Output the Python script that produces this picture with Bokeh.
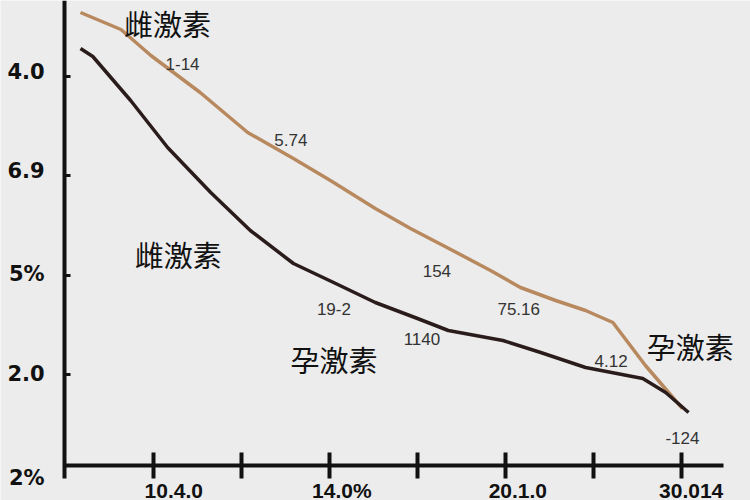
import re
from bokeh.plotting import figure
from bokeh.models import LinearAxis, FixedTicker, Range1d, ColumnDataSource
from bokeh.core.properties import value
from bokeh.embed import file_html
from bokeh.resources import INLINE

# ---------------- data ----------------
# x positions in tick units (tick 1 .. 7), y in chart units
estrogen_x = [0.17, 0.63, 0.97, 1.53, 2.07, 2.59, 3.01, 3.52, 3.92, 4.40, 4.83, 5.17, 5.57, 5.91, 6.22, 6.59, 7.01]
estrogen_y = [4.53, 4.36, 4.10, 3.73, 3.33, 3.07, 2.85, 2.57, 2.37, 2.15, 1.95, 1.78, 1.65, 1.55, 1.43, 1.00, 0.57]

progesterone_x = [0.17, 0.31, 0.74, 1.16, 1.65, 2.10, 2.59, 3.07, 3.52, 4.00, 4.35, 4.97, 5.40, 5.91, 6.56, 6.82, 7.08]
progesterone_y = [4.17, 4.09, 3.65, 3.18, 2.73, 2.35, 2.02, 1.82, 1.63, 1.47, 1.35, 1.25, 1.13, 0.98, 0.87, 0.73, 0.53]

series_names = ["雌激素", "雌激素", "孕激素", "孕激素"]
series_name_x = [1.16, 1.28, 3.05, 7.10]
series_name_y = [4.43, 2.12, 1.07, 1.20]

point_labels = ["1-14", "5.74", "154", "75.16", "19-2", "1140", "4.12", "-124"]
point_label_x = [1.33, 2.56, 4.22, 5.15, 3.05, 4.05, 6.20, 7.01]
point_label_y = [4.02, 3.26, 1.95, 1.57, 1.57, 1.27, 1.05, 0.28]

x_ticks = [1, 2, 3, 4, 5, 6, 7]
x_tick_labels = ["10.4.0", "14.0%", "20.1.0", "30.014"]
x_tick_label_pos = [1.23, 3.14, 5.14, 7.11]

y_ticks = [3.89, 2.90, 1.90, 0.91]
y_tick_labels = ["4.0", "6.9", "5%", "2.0", "2%"]
y_tick_label_pos = [3.94, 2.95, 1.92, 0.92, -0.12]

# ---------------- figure ----------------
BG = "#ececec"
p = figure(width=750, height=500, output_backend="svg", toolbar_location=None,
           x_axis_location=None, y_axis_location=None,
           x_range=Range1d(-0.739, 7.784), y_range=Range1d(-0.35, 4.65),
           min_border_left=0, min_border_right=0, min_border_top=0, min_border_bottom=0)
p.background_fill_color = BG
p.border_fill_color = BG
p.outline_line_color = None
p.xgrid.visible = False
p.ygrid.visible = False

AX_X = -0.01   # x location of the vertical axis
AX_Y = 0.0     # y location of the horizontal axis

# horizontal axis with tick marks
xa = LinearAxis(fixed_location=AX_Y, ticker=FixedTicker(ticks=x_ticks), bounds=(-0.01, 7.48))
xa.axis_line_width = 4
xa.axis_line_color = "#111111"
xa.major_tick_line_width = 4
xa.major_tick_line_color = "#111111"
xa.major_tick_in = 13
xa.major_tick_out = 13
xa.minor_tick_line_color = None
xa.major_label_text_color = None
p.add_layout(xa, "below")

# horizontal axis labels
xl = LinearAxis(fixed_location=AX_Y, ticker=FixedTicker(ticks=x_tick_label_pos))
xl.axis_line_color = None
xl.major_tick_line_color = None
xl.minor_tick_line_color = None
xl.major_tick_in = 0
xl.major_tick_out = 0
xl.major_label_standoff = 13
xl.major_label_overrides = {pos: lab for pos, lab in zip(x_tick_label_pos, x_tick_labels)}
xl.major_label_text_font = "Liberation Sans"
xl.major_label_text_font_style = "bold"
xl.major_label_text_font_size = "21px"
xl.major_label_text_color = "#111111"
p.add_layout(xl, "below")

# vertical axis with tick marks
ya = LinearAxis(fixed_location=AX_X, ticker=FixedTicker(ticks=y_ticks), bounds=(-0.13, 4.8))
ya.axis_line_width = 4
ya.axis_line_color = "#111111"
ya.major_tick_line_width = 3
ya.major_tick_line_color = "#111111"
ya.major_tick_in = 6
ya.major_tick_out = 0
ya.minor_tick_line_color = None
ya.major_label_text_color = None
p.add_layout(ya, "left")

# vertical axis labels
yl = LinearAxis(fixed_location=AX_X, ticker=FixedTicker(ticks=y_tick_label_pos))
yl.axis_line_color = None
yl.major_tick_line_color = None
yl.minor_tick_line_color = None
yl.major_tick_in = 0
yl.major_tick_out = 0
yl.major_label_standoff = 20
yl.major_label_overrides = {pos: lab for pos, lab in zip(y_tick_label_pos, y_tick_labels)}
yl.major_label_text_font = "DejaVu Sans"
yl.major_label_text_font_style = "bold"
yl.major_label_text_font_size = "21px"
yl.major_label_text_color = "#111111"
p.add_layout(yl, "left")

# lines
p.line(estrogen_x, estrogen_y, line_color="#b8895f", line_width=3.5, line_join="round")
p.line(progesterone_x, progesterone_y, line_color="#2b1c1c", line_width=3.5, line_join="round")

# series names
names_src = ColumnDataSource(dict(x=series_name_x, y=series_name_y, t=series_names))
p.text(x="x", y="y", text="t", source=names_src, text_font=value("Noto Sans CJK SC"),
       text_font_size="29px", text_color="#111111", text_align="center", text_baseline="middle")

# point labels
lab_src = ColumnDataSource(dict(x=point_label_x, y=point_label_y, t=point_labels))
p.text(x="x", y="y", text="t", source=lab_src, text_font=value("Liberation Sans"),
       text_font_size="17px", text_color="#333333", text_align="center", text_baseline="middle")

html = file_html(p, INLINE)
html = re.sub(r"<body([^>]*)>", r'<body\1 style="background-color:#ececec">', html, count=1)
open("out.html", "w").write(html)
